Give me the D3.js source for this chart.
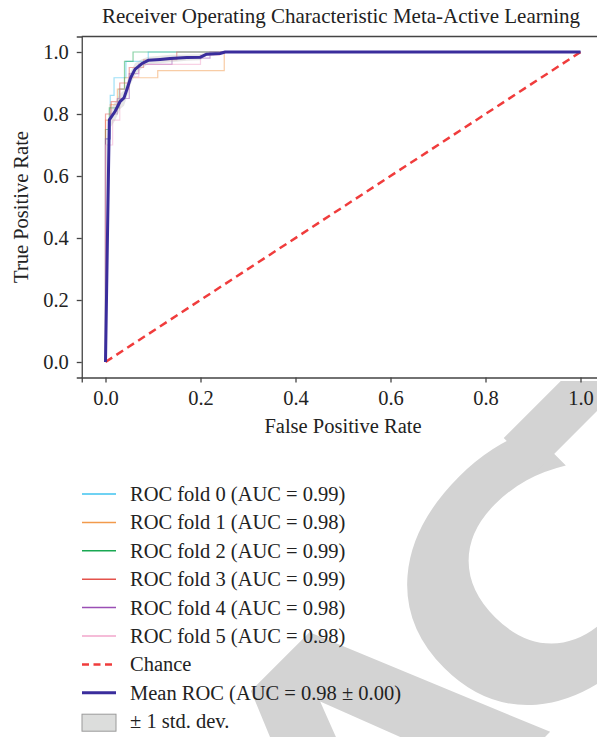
<!DOCTYPE html>
<html>
<head>
<meta charset="utf-8">
<script src="https://cdn.jsdelivr.net/npm/d3@7"></script>
<style>
  body { margin: 0; background: #fff; }
  svg { display: block; }
</style>
</head>
<body>
<svg id="chart" width="597" height="737"></svg>
<script>
// fold curves as [fpr, tpr] corners
const fold0 = [[0,0],[0,0.72],[0.01,0.72],[0.01,0.86],[0.018,0.86],[0.018,0.917],[0.043,0.917],[0.043,0.97],[0.09,0.97],[0.09,1],[1,1]];
const fold1 = [[0,0],[0,0.78],[0.01,0.78],[0.01,0.83],[0.025,0.83],[0.025,0.88],[0.04,0.88],[0.04,0.917],[0.11,0.917],[0.11,0.94],[0.25,0.94],[0.25,1],[1,1]];
const fold2 = [[0,0],[0,0.75],[0.008,0.75],[0.008,0.82],[0.029,0.82],[0.029,0.88],[0.04,0.88],[0.04,0.97],[0.058,0.97],[0.058,1],[1,1]];
const fold3 = [[0,0],[0,0.8],[0.012,0.8],[0.012,0.84],[0.03,0.84],[0.03,0.9],[0.05,0.9],[0.05,0.95],[0.08,0.95],[0.08,0.975],[0.15,0.975],[0.15,1],[1,1]];
const fold4 = [[0,0],[0,0.72],[0.01,0.72],[0.01,0.8],[0.025,0.8],[0.025,0.85],[0.05,0.85],[0.05,0.93],[0.07,0.93],[0.07,0.96],[0.14,0.96],[0.14,0.98],[0.22,0.98],[0.22,1],[1,1]];
const fold5 = [[0,0],[0,0.7],[0.015,0.7],[0.015,0.78],[0.03,0.78],[0.03,0.88],[0.05,0.88],[0.05,0.92],[0.07,0.92],[0.07,0.96],[0.2,0.96],[0.2,0.99],[0.24,0.99],[0.24,1],[1,1]];

const meanFpr = [0, 0.008, 0.02, 0.031, 0.039, 0.045, 0.053, 0.062, 0.076, 0.09, 0.115, 0.136, 0.171, 0.199, 0.213, 0.241, 0.252, 1];
const meanTpr = [0, 0.781, 0.808, 0.841, 0.852, 0.879, 0.917, 0.944, 0.962, 0.973, 0.976, 0.979, 0.982, 0.983, 0.993, 0.995, 1, 1];
const stdTpr  = [0, 0.03, 0.03, 0.025, 0.025, 0.025, 0.02, 0.02, 0.015, 0.012, 0.012, 0.012, 0.01, 0.01, 0.005, 0.005, 0, 0];

const foldAuc = ["0.99", "0.98", "0.99", "0.99", "0.98", "0.98"];
const foldColors = ["#3fc3ef", "#f29a4b", "#19a852", "#e4524b", "#9a4fb5", "#f2a6cb"];
const xTicks = [0, 0.2, 0.4, 0.6, 0.8, 1.0];
const yTicks = [0, 0.2, 0.4, 0.6, 0.8, 1.0];

const folds = [fold0, fold1, fold2, fold3, fold4, fold5];
const serif = "'Liberation Serif', 'DejaVu Serif', serif";

const svg = d3.select("#chart");

// big grey watermark behind everything, letters laid along a -45deg baseline,
// pinned so the "C" sits where it does in the picture
const wmWord = "RETRACTED";
const wmSize = 330;
const wmStretch = 1.12;
const wmTrack = -50;
const ux = Math.SQRT1_2, uy = -Math.SQRT1_2;
const wmGroups = wmWord.split("").map(ch => {
  const g = svg.append("g");
  const t = g.append("text")
    .attr("y", 0.36 * wmSize)
    .attr("text-anchor", "middle")
    .attr("font-family", "'DejaVu Sans', sans-serif")
    .attr("font-weight", "bold")
    .attr("font-size", wmSize)
    .attr("fill", "#d3d3d3")
    .text(ch);
  return {g, w: t.node().getComputedTextLength() * wmStretch};
});
let pos = 0;
const centers = wmGroups.map((d, i) => {
  if (i > 0) pos += (wmGroups[i - 1].w + d.w) / 2 + wmTrack;
  return pos;
});
wmGroups.forEach((d, i) => {
  const s = centers[i] - centers[5];
  d.g.attr("transform", `translate(${528 + s * ux},${586 + s * uy}) rotate(-45) scale(${wmStretch},1)`);
});

// plot part stays white
svg.append("rect").attr("x", 0).attr("y", 0).attr("width", 597).attr("height", 381).attr("fill", "#fff");

const x = d3.scaleLinear().domain([-0.05, 1.05]).range([81.75, 604.25]);
const y = d3.scaleLinear().domain([-0.05, 1.05]).range([377.5, 36.5]);

const line = d3.line().x(d => x(d[0])).y(d => y(d[1]));

folds.forEach((f, i) => {
  svg.append("path")
    .attr("d", line(f))
    .attr("fill", "none")
    .attr("stroke", foldColors[i])
    .attr("stroke-width", 1.2)
    .attr("stroke-opacity", 0.5);
});

// chance line
svg.append("path")
  .attr("d", line([[0, 0], [1, 1]]))
  .attr("fill", "none")
  .attr("stroke", "#f03c3c")
  .attr("stroke-width", 2.5)
  .attr("stroke-dasharray", "8,5");

// std band
const band = d3.area()
  .x((d, i) => x(meanFpr[i]))
  .y0((d, i) => y(Math.max(meanTpr[i] - stdTpr[i], 0)))
  .y1((d, i) => y(Math.min(meanTpr[i] + stdTpr[i], 1)));
svg.append("path")
  .attr("d", band(meanFpr))
  .attr("fill", "#b8b8b8")
  .attr("fill-opacity", 0.35);

// mean roc
svg.append("path")
  .attr("d", line(meanFpr.map((v, i) => [v, meanTpr[i]])))
  .attr("fill", "none")
  .attr("stroke", "#3a2d9c")
  .attr("stroke-width", 3)
  .attr("stroke-linejoin", "round");

// axes
const xAxis = svg.append("g")
  .attr("transform", `translate(0,${y(-0.05)})`)
  .call(d3.axisBottom(x).tickValues(xTicks).tickFormat(d3.format(".1f")).tickSizeOuter(0).tickSize(5).tickPadding(8));
const yAxis = svg.append("g")
  .attr("transform", `translate(${x(-0.05)},0)`)
  .call(d3.axisLeft(y).tickValues(yTicks).tickFormat(d3.format(".1f")).tickSizeOuter(0).tickSize(5).tickPadding(8));
[xAxis, yAxis].forEach(g => {
  g.selectAll("path, line").attr("stroke", "#444").attr("stroke-width", 1.3);
  g.selectAll("text").attr("font-family", serif).attr("font-size", 20.5).attr("fill", "#222");
});
svg.append("line")
  .attr("x1", x(-0.05)).attr("x2", 597)
  .attr("y1", y(1.05)).attr("y2", y(1.05))
  .attr("stroke", "#444").attr("stroke-width", 1.3);

svg.append("text")
  .attr("x", 341).attr("y", 23)
  .attr("text-anchor", "middle")
  .attr("font-family", serif).attr("font-size", 21).attr("fill", "#222")
  .text("Receiver Operating Characteristic Meta-Active Learning");

svg.append("text")
  .attr("x", 343).attr("y", 433)
  .attr("text-anchor", "middle")
  .attr("font-family", serif).attr("font-size", 20.5).attr("fill", "#222")
  .text("False Positive Rate");

svg.append("text")
  .attr("transform", "translate(28,207) rotate(-90)")
  .attr("text-anchor", "middle")
  .attr("font-family", serif).attr("font-size", 20.5).attr("fill", "#222")
  .text("True Positive Rate");

// legend
const legendItems = foldAuc.map((auc, i) => ({label: `ROC fold ${i} (AUC = ${auc})`, color: foldColors[i], kind: "fold"}))
  .concat([
    {label: "Chance", color: "#f03c3c", kind: "chance"},
    {label: "Mean ROC (AUC = 0.98 \u00b1 0.00)", color: "#3a2d9c", kind: "mean"},
    {label: "\u00b1 1 std. dev.", color: "#dcdddc", kind: "box"}
  ]);

const leg = svg.append("g");
legendItems.forEach((d, i) => {
  const yy = 494 + i * 28.4;
  if (d.kind === "box") {
    leg.append("rect").attr("x", 82).attr("y", yy - 7).attr("width", 34).attr("height", 17)
      .attr("fill", d.color).attr("stroke", "#9a9a9a").attr("stroke-width", 1);
  } else {
    leg.append("line").attr("x1", 82).attr("x2", 116).attr("y1", yy).attr("y2", yy)
      .attr("stroke", d.color)
      .attr("stroke-width", d.kind === "mean" ? 3 : d.kind === "chance" ? 2.5 : 1.5)
      .attr("stroke-dasharray", d.kind === "chance" ? "7,4.5" : null);
  }
  leg.append("text").attr("x", 130).attr("y", yy + 7)
    .attr("font-family", serif).attr("font-size", 20.5).attr("fill", "#222")
    .text(d.label);
});
</script>
</body>
</html>
